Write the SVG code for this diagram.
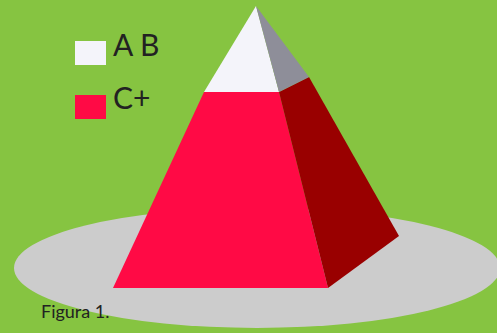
<svg xmlns="http://www.w3.org/2000/svg" width="497" height="333" viewBox="0 0 497 333">
<style>
.lbl{font-family:Lato,"Open Sans","DejaVu Sans",sans-serif;fill:#222;}
</style>
<rect x="0" y="0" width="497" height="333" fill="#86c441"/>
<g id="base"><ellipse cx="257" cy="268" rx="243" ry="60" fill="#cccccc"/></g>
<g id="pyramid">
<polygon points="204,92 279,92 328,288 113,288" fill="#ff0a45"/>
<polygon points="279,92 309,77 399,236 328,288" fill="#990000"/>
<polygon points="256,6 204,92 279,92" fill="#f4f4fa"/>
<polygon points="256,6 279,92 309,77" fill="#8e8e99"/>
</g>
<g id="legend-ab"><rect x="75" y="41" width="31" height="24" fill="#f4f4fa"/><text class="lbl" x="113" y="56" font-size="30">A B</text></g>
<g id="legend-c"><rect x="75" y="95" width="31" height="24" fill="#ff0a45"/><text class="lbl" x="113" y="109" font-size="30">C+</text></g>
<g id="connectors"/>
<text class="lbl" x="41" y="318" font-size="18" fill="#333">Figura 1.</text>
</svg>
